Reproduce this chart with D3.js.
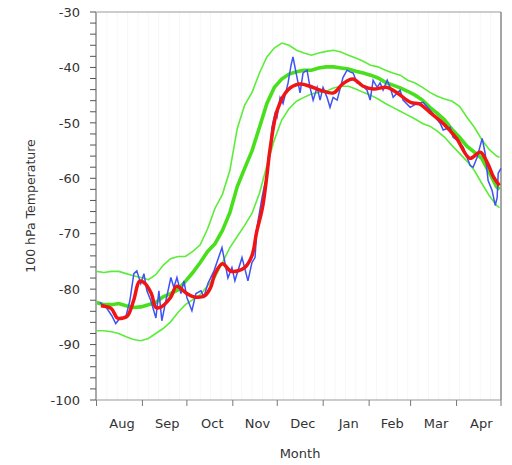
<!DOCTYPE html>
<html lang="en">
<head>
<meta charset="UTF-8">
<script src="https://d3js.org/d3.v7.min.js"></script>
<style>
    body { margin: 0; background: #fff; }
    text { font-family: "DejaVu Sans", sans-serif; fill: #333; }
</style>
</head>
<body>
<script>
    const width = 512;
    const height = 465;

    // day index counted from 1 Aug
    const months = ['Aug', 'Sep', 'Oct', 'Nov', 'Dec', 'Jan', 'Feb', 'Mar', 'Apr'];
    const monthStarts = [0, 31, 61, 92, 122, 153, 184, 212, 243, 273];
    const yTicks = [-100, -90, -80, -70, -60, -50, -40, -30];

    // envelope / climatology, one value every 5 days (last at day 272)
    const envDays = d3.range(0, 271, 5).concat([272]);
    const upperBound = [-76.8, -77.0, -76.8, -76.8, -77.2, -77.6, -77.9, -78.3, -77.4, -75.7,
        -74.5, -74.1, -74.1, -73.2, -72.0, -69.1, -65.4, -62.9, -58.6, -51.0,
        -46.8, -44.5, -41.0, -38.1, -36.5, -35.6, -36.0, -36.9, -37.4, -37.8,
        -37.4, -37.1, -36.9, -37.2, -37.8, -38.3, -38.9, -39.6, -39.9, -40.5,
        -41.0, -41.4, -42.3, -42.8, -43.6, -44.5, -45.2, -45.7, -46.1, -47.0,
        -49.0, -50.8, -53.0, -54.8, -56.0, -56.2];
    const lowerBound = [-87.5, -87.5, -87.7, -88.0, -88.6, -89.1, -89.3, -88.9, -88.0, -87.1,
        -85.9, -84.2, -82.8, -81.9, -81.0, -79.4, -77.9, -75.2, -72.5, -70.5,
        -68.5, -66.3, -62.7, -57.7, -53.1, -49.5, -47.4, -46.1, -45.4, -44.8,
        -44.5, -44.3, -43.7, -43.4, -43.4, -43.9, -44.5, -45.0, -45.7, -46.5,
        -47.2, -47.9, -48.6, -49.3, -50.1, -50.6, -51.5, -52.6, -54.1, -55.5,
        -56.9, -58.6, -60.9, -63.1, -64.9, -65.3];
    const meanTemp = [-82.4, -82.8, -82.8, -82.6, -83.0, -83.3, -83.2, -82.8, -82.4, -81.4,
        -80.8, -80.1, -78.6, -77.0, -75.2, -73.2, -71.8, -69.4, -66.2, -61.5,
        -58.2, -55.0, -50.8, -46.5, -43.6, -42.1, -41.2, -40.8, -40.5, -40.5,
        -40.1, -39.9, -39.9, -40.1, -40.3, -40.7, -41.0, -41.4, -41.9, -42.7,
        -43.2, -43.7, -44.3, -45.0, -45.9, -47.2, -48.3, -49.5, -51.2, -52.6,
        -54.2, -55.3, -56.4, -58.9, -61.5, -62.0];

    // daily observations
    const obsDays = [2.2, 6.3, 10.3, 13, 15.7, 19.8, 22.5, 25.2, 27.2, 29.9,
        32, 34, 36.7, 40.1, 42.1, 44.1, 46.8, 50.2, 52.2, 54.3,
        57, 59, 61, 64.4, 67.1, 70.5, 72.5, 75.2, 79.3, 84.7,
        88.7, 91.4, 93.4, 98.2, 102.2, 104.9, 107, 108.3, 111.7, 113.7,
        115.1, 117.1, 118.4, 120.5, 121.8, 123.9, 125.9, 129.3, 131.3, 132.6,
        135.3, 137.4, 139.4, 142.1, 144.1, 146.2, 148.9, 150.9, 152.9, 155.6,
        157.6, 159.7, 162.4, 166.4, 169.1, 171.1, 173.2, 175.9, 177.9, 182.6,
        184.7, 186.7, 189.4, 191.4, 193.4, 196.2, 198.2, 200.2, 202.9, 204.9,
        206.9, 211.7, 216.4, 220.5, 225.2, 229.3, 232, 234, 238.7, 240.7,
        243.4, 247.5, 252.2, 254.2, 256.9, 260.3, 262.3, 264.3, 267, 269.1,
        270.4, 271.1, 273];
    const obsTemp = [-82.4, -83.2, -84.8, -86.2, -85.3, -85.0, -82.1, -77.2, -76.7, -79.0,
        -77.2, -80.3, -82.1, -85.2, -80.3, -85.7, -82.1, -77.9, -79.7, -77.9,
        -80.8, -78.5, -81.5, -83.9, -80.8, -80.3, -81.4, -79.0, -76.7, -72.5,
        -78.0, -76.1, -78.5, -74.3, -78.5, -75.2, -74.3, -68.9, -63.5, -60.9,
        -59.8, -55.0, -50.8, -48.3, -49.0, -45.4, -46.5, -42.8, -39.6, -38.1,
        -41.8, -44.6, -41.0, -40.5, -43.6, -45.9, -43.6, -45.9, -43.6, -45.4,
        -47.2, -45.4, -45.9, -41.8, -40.5, -40.8, -41.0, -42.8, -42.8, -44.1,
        -45.9, -42.3, -43.6, -42.8, -44.1, -42.3, -43.6, -45.4, -44.6, -44.1,
        -45.9, -47.2, -46.5, -46.3, -47.7, -49.2, -50.1, -51.3, -50.8, -52.6,
        -53.1, -54.4, -57.7, -58.0, -56.2, -52.8, -55.5, -60.4, -62.2, -64.9,
        -63.5, -59.1, -58.2];

    // smoothed observations
    const smoothDays = [3, 10, 14, 18, 21, 25, 29, 32, 37, 40, 43, 50, 54, 61, 66, 73,
        77, 80, 85, 91, 100, 105, 108, 112, 115, 117, 122, 129, 137, 144,
        151, 160, 166, 173, 180, 187, 196, 203, 212, 218, 225, 234, 243, 252,
        259, 264, 268, 272];
    const smoothTemp = [-83.0, -83.5, -85.2, -85.2, -84.8, -82.1, -78.6, -78.8, -80.8, -83.3,
        -83.3, -81.5, -79.5, -80.8, -81.4, -81.2, -79.7, -77.2, -75.4, -76.8,
        -76.1, -73.9, -69.8, -65.3, -59.5, -55.0, -47.7, -44.1, -43.0, -43.4,
        -44.1, -44.6, -43.0, -42.1, -43.4, -43.9, -43.6, -44.6, -46.3, -46.6,
        -48.1, -50.1, -52.8, -56.4, -55.3, -57.3, -59.8, -61.3];

    const x = d3.scaleLinear().domain([0, 273]).range([96.5, 501]);
    const y = d3.scaleLinear().domain([-100, -30]).range([400, 12]);

    const svg = d3.select('body').append('svg')
        .attr('width', width)
        .attr('height', height);

    // faint weekly grid
    svg.append('g')
        .selectAll('line')
        .data(d3.range(7, 273, 7))
        .enter().append('line')
        .attr('x1', d => x(d)).attr('x2', d => x(d))
        .attr('y1', 12).attr('y2', 400)
        .attr('stroke', '#f7f7f7');

    // frame: top and right
    svg.append('line').attr('x1', x(0)).attr('x2', x(273)).attr('y1', 12).attr('y2', 12)
        .attr('stroke', '#999').attr('stroke-width', 1);
    svg.append('line').attr('x1', x(273)).attr('x2', x(273)).attr('y1', 12).attr('y2', 400)
        .attr('stroke', '#888').attr('stroke-width', 1.5);

    const line = (xs, ys) => d3.line()
        .x(i => x(xs[i]))
        .y(i => y(ys[i]))(d3.range(xs.length));

    svg.append('path').attr('d', line(envDays, upperBound))
        .attr('fill', 'none').attr('stroke', '#5ced3a').attr('stroke-width', 1.6);
    svg.append('path').attr('d', line(envDays, lowerBound))
        .attr('fill', 'none').attr('stroke', '#5ced3a').attr('stroke-width', 1.6);
    svg.append('path').attr('d', line(envDays, meanTemp))
        .attr('fill', 'none').attr('stroke', '#48e01c').attr('stroke-width', 3.6);
    svg.append('path').attr('d', line(obsDays, obsTemp))
        .attr('fill', 'none').attr('stroke', '#3f52f2').attr('stroke-width', 1.5);

    const smoothLine = d3.line()
        .curve(d3.curveCatmullRom)
        .x(i => x(smoothDays[i]))
        .y(i => y(smoothTemp[i]));
    svg.append('path').attr('d', smoothLine(d3.range(smoothDays.length)))
        .attr('fill', 'none').attr('stroke', '#f01414').attr('stroke-width', 3.5)
        .attr('stroke-linejoin', 'round');

    // y axis
    svg.append('line').attr('x1', 96).attr('x2', 96).attr('y1', 12).attr('y2', 400)
        .attr('stroke', '#aaa').attr('stroke-width', 2);
    svg.append('g')
        .selectAll('line')
        .data(d3.range(-100, -29, 2))
        .enter().append('line')
        .attr('x1', 90).attr('x2', 96)
        .attr('y1', d => y(d)).attr('y2', d => y(d))
        .attr('stroke', '#555');
    svg.append('g')
        .selectAll('text')
        .data(yTicks)
        .enter().append('text')
        .attr('x', 80)
        .attr('y', d => y(d))
        .attr('dy', '0.36em')
        .attr('text-anchor', 'end')
        .style('font-size', '13px')
        .text(d => d);

    // x axis
    svg.append('line').attr('x1', x(0)).attr('x2', x(273)).attr('y1', 400).attr('y2', 400)
        .attr('stroke', '#999');
    svg.append('g')
        .selectAll('line')
        .data(monthStarts)
        .enter().append('line')
        .attr('x1', d => x(d)).attr('x2', d => x(d))
        .attr('y1', 400).attr('y2', 406)
        .attr('stroke', '#777');
    svg.append('g')
        .selectAll('text')
        .data(months)
        .enter().append('text')
        .attr('x', (d, i) => (x(monthStarts[i]) + x(monthStarts[i + 1])) / 2 + 2.5)
        .attr('y', 428)
        .attr('text-anchor', 'middle')
        .style('font-size', '13px')
        .text(d => d);

    svg.append('text')
        .attr('x', 300).attr('y', 458)
        .attr('text-anchor', 'middle')
        .style('font-size', '13px')
        .text('Month');

    svg.append('text')
        .attr('transform', 'translate(35,206) rotate(-90)')
        .attr('text-anchor', 'middle')
        .style('font-size', '12.5px')
        .text('100 hPa Temperature');
</script>
</body>
</html>
